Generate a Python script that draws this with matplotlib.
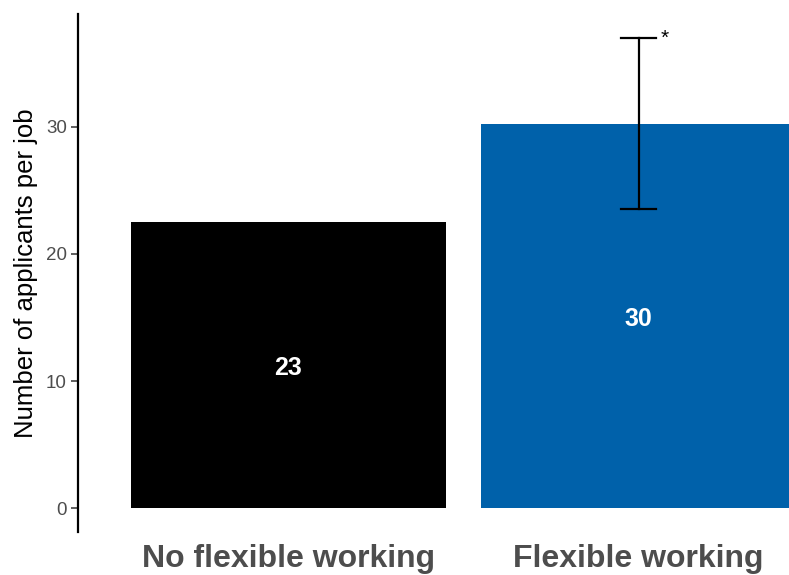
import matplotlib
matplotlib.use("Agg")
import matplotlib.pyplot as plt

plt.rcParams['font.family'] = ['Liberation Sans', 'DejaVu Sans']

# applicants per job, with and without flexible working
groups = ["No flexible working", "Flexible working"]
means = [22.5, 30.2]
bar_labels = ["23", "30"]
colors = ["#000000", "#0061AA"]
err_low = [None, 23.5]
err_high = [None, 37.0]
signif = [None, "*"]

fig = plt.figure(figsize=(7.89, 5.75), dpi=100)
ax = fig.add_axes([78 / 789, 43 / 575, 771 / 789, 518 / 575])

xs = list(range(len(groups)))
ax.bar(xs, means, width=0.9, color=colors, zorder=1)

for x, m, lab in zip(xs, means, bar_labels):
    ax.text(x, m / 2, lab, ha="center", va="center_baseline", color="white",
            fontsize=18, fontweight="bold")

for x, lo, hi, s in zip(xs, err_low, err_high, signif):
    if lo is None:
        continue
    ax.plot([x, x], [lo, hi], color="black", lw=1.6, zorder=3)
    for yv in (lo, hi):
        ax.plot([x - 0.05, x + 0.05], [yv, yv], color="black", lw=1.6, zorder=3)
    if s:
        ax.text(x + 0.062, hi - 0.1, s, ha="left", va="center",
                fontsize=15, color="black")

ax.set_xlim(-0.6, 1.6)
ax.set_ylim(-1.85, 38.85)
ax.set_yticks([0, 10, 20, 30])
ax.set_xticks(xs)
ax.set_xticklabels(groups, fontsize=23, fontweight="bold", color="#4D4D4D")
ax.tick_params(axis="x", length=0, pad=9)
ax.tick_params(axis="y", length=5, width=1.1, color="#333333",
               labelsize=13.5, labelcolor="#4D4D4D", pad=3)
ax.set_ylabel("Number of applicants per job", fontsize=18.5, color="black",
              labelpad=6)

for side in ("top", "right", "bottom"):
    ax.spines[side].set_visible(False)
ax.spines["left"].set_linewidth(1.6)
ax.spines["left"].set_color("black")

fig.savefig("out.png", dpi=100)
